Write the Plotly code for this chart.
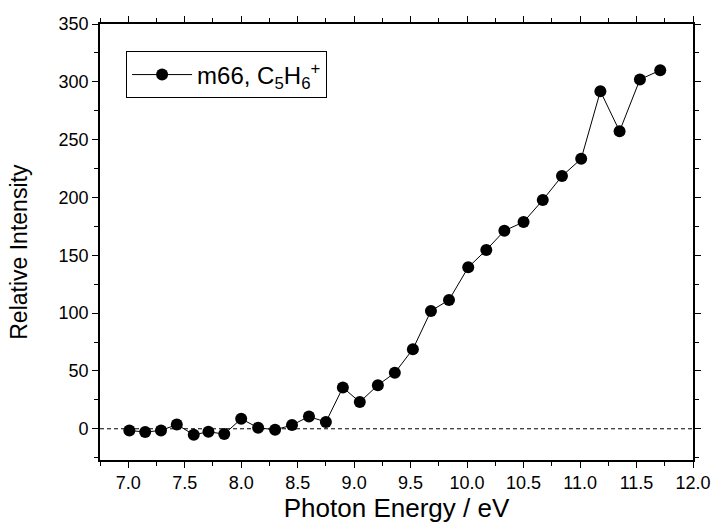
import plotly.graph_objects as go

# Photoionization efficiency curve for m/z 66 (C5H6+)
photon_energy = [7.01, 7.15, 7.29, 7.43, 7.58, 7.71, 7.85, 8.00, 8.15, 8.30,
                 8.45, 8.60, 8.75, 8.90, 9.05, 9.21, 9.36, 9.52, 9.68, 9.84,
                 10.01, 10.17, 10.33, 10.50, 10.67, 10.84, 11.01, 11.18, 11.35,
                 11.53, 11.71]
relative_intensity = [-1.5, -2.8, -1.5, 3.7, -5.2, -2.6, -4.6, 8.6, 0.9, -0.9,
                      3.2, 10.6, 5.8, 35.7, 23.1, 37.7, 48.4, 68.8, 101.9, 111.4,
                      139.6, 154.6, 171.2, 178.8, 197.8, 218.5, 233.4, 291.9,
                      257.3, 302.0, 310.0]
series_name = "m66, C<sub>5</sub>H<sub>6</sub><sup>+</sup>"

x_ticks = [7.0, 7.5, 8.0, 8.5, 9.0, 9.5, 10.0, 10.5, 11.0, 11.5, 12.0]
y_ticks = [0, 50, 100, 150, 200, 250, 300, 350]

FONT = "Liberation Sans, Arial, sans-serif"

fig = go.Figure()
fig.add_trace(go.Scatter(
    x=photon_energy, y=relative_intensity, name=series_name,
    mode="lines+markers",
    line=dict(color="black", width=1),
    marker=dict(color="black", size=12, symbol="circle"),
))

# dashed baseline at zero
fig.add_shape(type="line", xref="paper", yref="y", x0=0, x1=1, y0=0, y1=0,
              line=dict(color="black", width=1, dash="4px,3px"), layer="below")

axis_common = dict(
    showline=True, linecolor="black", linewidth=1.6, mirror="allticks",
    ticks="outside", ticklen=6, tickwidth=1.2, tickcolor="black",
    showgrid=False, zeroline=False,
    tickfont=dict(family=FONT, size=18, color="black"),
)

fig.update_xaxes(
    range=[6.75, 12.0], tickvals=x_ticks,
    ticktext=[f"{v:.1f}" for v in x_ticks],
    minor=dict(dtick=0.25, tick0=7.0, ticks="outside", ticklen=4, tickcolor="black"),
    title=dict(text="Photon Energy / eV", font=dict(family=FONT, size=26, color="black"),
               standoff=4),
    **axis_common,
)
fig.update_yaxes(
    range=[-27, 350], tickvals=y_ticks,
    minor=dict(dtick=25, tick0=0, ticks="outside", ticklen=4, tickcolor="black"),
    **axis_common,
)

# vertical axis title, placed slightly below the plot's midline
fig.add_annotation(
    text="Relative Intensity", textangle=-90, showarrow=False,
    xref="paper", yref="paper", x=-0.138, y=0.478,
    xanchor="center", yanchor="middle",
    font=dict(family=FONT, size=23, color="black"),
)

fig.update_layout(
    width=723, height=530,
    margin=dict(l=100, r=22, t=24, b=70),
    paper_bgcolor="white", plot_bgcolor="white",
    font=dict(family=FONT, color="black"),
    showlegend=True,
    legend=dict(
        x=0.044, y=0.937, xanchor="left", yanchor="top",
        bordercolor="black", borderwidth=1, bgcolor="white",
        font=dict(family=FONT, size=24, color="black"),
        itemwidth=60,
    ),
)

fig.write_html("out.html")
